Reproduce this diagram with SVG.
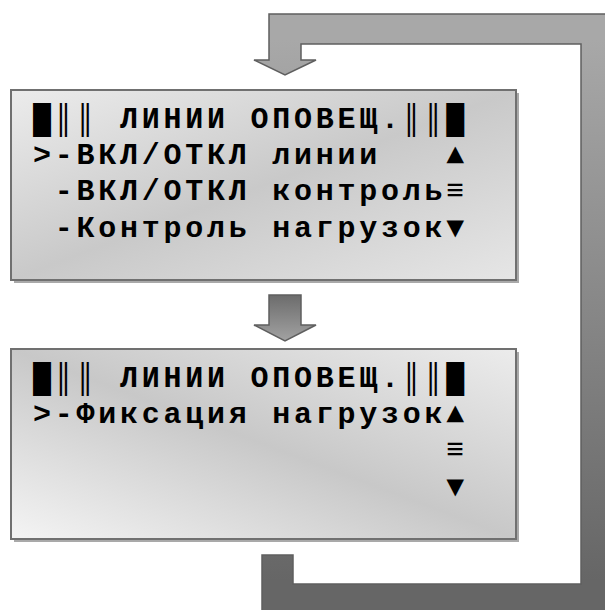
<svg xmlns="http://www.w3.org/2000/svg" width="605" height="610" viewBox="0 0 605 610">
  <defs>
    <linearGradient id="loopGrad" gradientUnits="userSpaceOnUse" x1="0" y1="40" x2="0" y2="580">
      <stop offset="0" stop-color="#a8a8a8"/>
      <stop offset="1" stop-color="#666666"/>
    </linearGradient>
    <linearGradient id="midGrad" gradientUnits="objectBoundingBox" x1="0" y1="0" x2="0" y2="1">
      <stop offset="0" stop-color="#6c6c6c"/>
      <stop offset="1" stop-color="#a2a2a2"/>
    </linearGradient>
    <linearGradient id="box1Grad" x1="0" y1="0" x2="1" y2="1">
      <stop offset="0" stop-color="#ececec"/>
      <stop offset="0.5" stop-color="#c9c9c9"/>
      <stop offset="1" stop-color="#e6e6e6"/>
    </linearGradient>
    <linearGradient id="box2Grad" x1="0" y1="1" x2="1" y2="0">
      <stop offset="0" stop-color="#f4f4f4"/>
      <stop offset="0.5" stop-color="#c8c8c8"/>
      <stop offset="1" stop-color="#ececec"/>
    </linearGradient>
    <style>
      .shadow { fill: #a9a9a9; }
      .box { stroke: #707070; stroke-width: 2; }
      .lcd { font-family: "Liberation Mono", "DejaVu Sans Mono", monospace; font-weight: bold; font-size: 30px; letter-spacing: 3.75px; fill: #000; white-space: pre; }
      .arrow { stroke: #5f5f5f; stroke-width: 1.5; stroke-linejoin: miter; }
    </style>
  </defs>
  <rect width="605" height="610" fill="#ffffff"/>

  <g id="connectors">
    <path id="loop" class="arrow" fill="url(#loopGrad)" d="M262,555 H293 V584 H581 V44 H301 V60 H316 L285,75 L254,60 H269 V14 H614 V618 H262 Z"/>
    <path id="down" class="arrow" fill="url(#midGrad)" d="M269,295 H301 V325 H316 L285,341 L254,325 H269 Z"/>
  </g>

  <g id="screen1">
    <rect class="shadow" x="14" y="93" width="505" height="190"/>
    <rect class="box" x="11" y="90" width="505" height="190" fill="url(#box1Grad)"/>
    <text class="lcd" xml:space="preserve" x="33" y="128">█║║ ЛИНИИ ОПОВЕЩ.║║█</text>
    <text class="lcd" xml:space="preserve" x="33" y="164">&gt;-ВКЛ/ОТКЛ линии   ▲</text>
    <text class="lcd" xml:space="preserve" x="33" y="200"> -ВКЛ/ОТКЛ контроль≡</text>
    <text class="lcd" xml:space="preserve" x="33" y="237"> -Контроль нагрузок▼</text>
  </g>

  <g id="screen2">
    <rect class="shadow" x="14" y="352" width="505" height="190"/>
    <rect class="box" x="11" y="349" width="505" height="190" fill="url(#box2Grad)"/>
    <text class="lcd" xml:space="preserve" x="33" y="387">█║║ ЛИНИИ ОПОВЕЩ.║║█</text>
    <text class="lcd" xml:space="preserve" x="33" y="423">&gt;-Фиксация нагрузок▲</text>
    <text class="lcd" xml:space="preserve" x="33" y="459">                   ≡</text>
    <text class="lcd" xml:space="preserve" x="33" y="496">                   ▼</text>
  </g>
</svg>
